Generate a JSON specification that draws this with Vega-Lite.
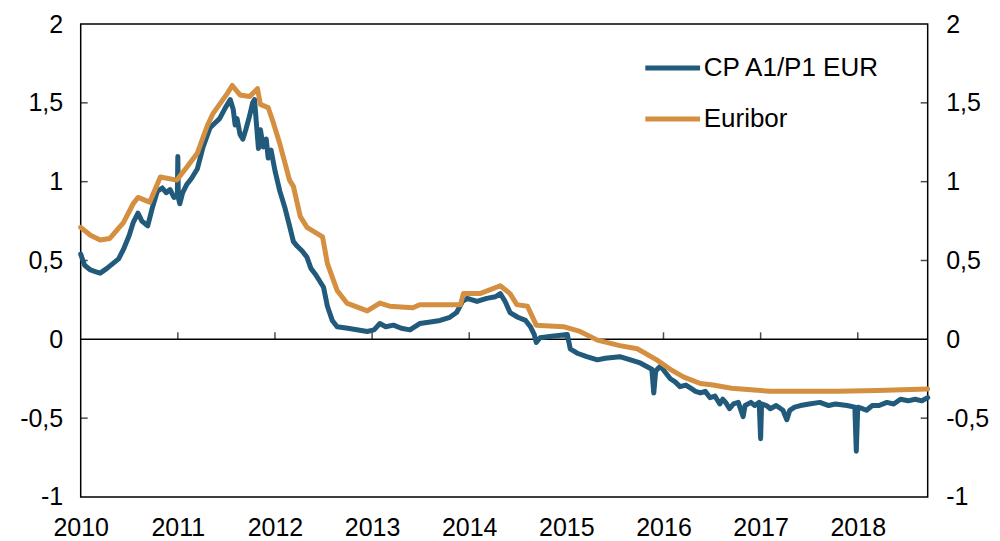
{
  "$schema": "https://vega.github.io/schema/vega-lite/v6.json",
  "autosize": {"type": "none"},
  "padding": {"left": 80.7, "top": 24, "right": 72, "bottom": 44},
  "width": 847,
  "height": 473,
  "background": "white",
  "config": {
    "font": "Liberation Sans",
    "view": {"stroke": "black", "strokeWidth": 1.5},
    "axis": {"labelFont": "Liberation Sans", "labelFontSize": 25, "labelColor": "black", "grid": false, "title": null, "domain": false, "ticks": false}
  },
  "datasets": {
    "rates": [
      {"t": 2010.00, "v": 0.54, "s": "CP A1/P1 EUR"},
      {"t": 2010.04, "v": 0.47, "s": "CP A1/P1 EUR"},
      {"t": 2010.10, "v": 0.44, "s": "CP A1/P1 EUR"},
      {"t": 2010.15, "v": 0.43, "s": "CP A1/P1 EUR"},
      {"t": 2010.20, "v": 0.42, "s": "CP A1/P1 EUR"},
      {"t": 2010.27, "v": 0.45, "s": "CP A1/P1 EUR"},
      {"t": 2010.33, "v": 0.48, "s": "CP A1/P1 EUR"},
      {"t": 2010.39, "v": 0.51, "s": "CP A1/P1 EUR"},
      {"t": 2010.44, "v": 0.57, "s": "CP A1/P1 EUR"},
      {"t": 2010.50, "v": 0.66, "s": "CP A1/P1 EUR"},
      {"t": 2010.54, "v": 0.74, "s": "CP A1/P1 EUR"},
      {"t": 2010.59, "v": 0.80, "s": "CP A1/P1 EUR"},
      {"t": 2010.63, "v": 0.75, "s": "CP A1/P1 EUR"},
      {"t": 2010.69, "v": 0.72, "s": "CP A1/P1 EUR"},
      {"t": 2010.74, "v": 0.84, "s": "CP A1/P1 EUR"},
      {"t": 2010.79, "v": 0.94, "s": "CP A1/P1 EUR"},
      {"t": 2010.84, "v": 0.96, "s": "CP A1/P1 EUR"},
      {"t": 2010.88, "v": 0.93, "s": "CP A1/P1 EUR"},
      {"t": 2010.92, "v": 0.95, "s": "CP A1/P1 EUR"},
      {"t": 2010.96, "v": 0.90, "s": "CP A1/P1 EUR"},
      {"t": 2010.995, "v": 0.91, "s": "CP A1/P1 EUR"},
      {"t": 2011.00, "v": 1.16, "s": "CP A1/P1 EUR"},
      {"t": 2011.005, "v": 0.90, "s": "CP A1/P1 EUR"},
      {"t": 2011.02, "v": 0.86, "s": "CP A1/P1 EUR"},
      {"t": 2011.05, "v": 0.93, "s": "CP A1/P1 EUR"},
      {"t": 2011.09, "v": 0.98, "s": "CP A1/P1 EUR"},
      {"t": 2011.14, "v": 1.02, "s": "CP A1/P1 EUR"},
      {"t": 2011.20, "v": 1.08, "s": "CP A1/P1 EUR"},
      {"t": 2011.26, "v": 1.22, "s": "CP A1/P1 EUR"},
      {"t": 2011.33, "v": 1.34, "s": "CP A1/P1 EUR"},
      {"t": 2011.38, "v": 1.37, "s": "CP A1/P1 EUR"},
      {"t": 2011.43, "v": 1.40, "s": "CP A1/P1 EUR"},
      {"t": 2011.49, "v": 1.47, "s": "CP A1/P1 EUR"},
      {"t": 2011.54, "v": 1.52, "s": "CP A1/P1 EUR"},
      {"t": 2011.57, "v": 1.46, "s": "CP A1/P1 EUR"},
      {"t": 2011.59, "v": 1.36, "s": "CP A1/P1 EUR"},
      {"t": 2011.61, "v": 1.40, "s": "CP A1/P1 EUR"},
      {"t": 2011.64, "v": 1.30, "s": "CP A1/P1 EUR"},
      {"t": 2011.67, "v": 1.27, "s": "CP A1/P1 EUR"},
      {"t": 2011.70, "v": 1.33, "s": "CP A1/P1 EUR"},
      {"t": 2011.74, "v": 1.42, "s": "CP A1/P1 EUR"},
      {"t": 2011.77, "v": 1.50, "s": "CP A1/P1 EUR"},
      {"t": 2011.79, "v": 1.52, "s": "CP A1/P1 EUR"},
      {"t": 2011.81, "v": 1.36, "s": "CP A1/P1 EUR"},
      {"t": 2011.83, "v": 1.21, "s": "CP A1/P1 EUR"},
      {"t": 2011.85, "v": 1.33, "s": "CP A1/P1 EUR"},
      {"t": 2011.88, "v": 1.22, "s": "CP A1/P1 EUR"},
      {"t": 2011.91, "v": 1.27, "s": "CP A1/P1 EUR"},
      {"t": 2011.93, "v": 1.15, "s": "CP A1/P1 EUR"},
      {"t": 2011.96, "v": 1.20, "s": "CP A1/P1 EUR"},
      {"t": 2012.00, "v": 1.07, "s": "CP A1/P1 EUR"},
      {"t": 2012.05, "v": 0.94, "s": "CP A1/P1 EUR"},
      {"t": 2012.10, "v": 0.84, "s": "CP A1/P1 EUR"},
      {"t": 2012.15, "v": 0.72, "s": "CP A1/P1 EUR"},
      {"t": 2012.19, "v": 0.62, "s": "CP A1/P1 EUR"},
      {"t": 2012.23, "v": 0.59, "s": "CP A1/P1 EUR"},
      {"t": 2012.28, "v": 0.56, "s": "CP A1/P1 EUR"},
      {"t": 2012.33, "v": 0.52, "s": "CP A1/P1 EUR"},
      {"t": 2012.37, "v": 0.45, "s": "CP A1/P1 EUR"},
      {"t": 2012.42, "v": 0.41, "s": "CP A1/P1 EUR"},
      {"t": 2012.46, "v": 0.37, "s": "CP A1/P1 EUR"},
      {"t": 2012.50, "v": 0.33, "s": "CP A1/P1 EUR"},
      {"t": 2012.54, "v": 0.21, "s": "CP A1/P1 EUR"},
      {"t": 2012.59, "v": 0.12, "s": "CP A1/P1 EUR"},
      {"t": 2012.64, "v": 0.08, "s": "CP A1/P1 EUR"},
      {"t": 2012.75, "v": 0.07, "s": "CP A1/P1 EUR"},
      {"t": 2012.95, "v": 0.05, "s": "CP A1/P1 EUR"},
      {"t": 2013.02, "v": 0.06, "s": "CP A1/P1 EUR"},
      {"t": 2013.08, "v": 0.10, "s": "CP A1/P1 EUR"},
      {"t": 2013.14, "v": 0.08, "s": "CP A1/P1 EUR"},
      {"t": 2013.22, "v": 0.09, "s": "CP A1/P1 EUR"},
      {"t": 2013.30, "v": 0.07, "s": "CP A1/P1 EUR"},
      {"t": 2013.39, "v": 0.06, "s": "CP A1/P1 EUR"},
      {"t": 2013.49, "v": 0.10, "s": "CP A1/P1 EUR"},
      {"t": 2013.60, "v": 0.11, "s": "CP A1/P1 EUR"},
      {"t": 2013.70, "v": 0.12, "s": "CP A1/P1 EUR"},
      {"t": 2013.80, "v": 0.14, "s": "CP A1/P1 EUR"},
      {"t": 2013.87, "v": 0.17, "s": "CP A1/P1 EUR"},
      {"t": 2013.93, "v": 0.24, "s": "CP A1/P1 EUR"},
      {"t": 2013.98, "v": 0.26, "s": "CP A1/P1 EUR"},
      {"t": 2014.08, "v": 0.24, "s": "CP A1/P1 EUR"},
      {"t": 2014.18, "v": 0.26, "s": "CP A1/P1 EUR"},
      {"t": 2014.27, "v": 0.27, "s": "CP A1/P1 EUR"},
      {"t": 2014.32, "v": 0.29, "s": "CP A1/P1 EUR"},
      {"t": 2014.37, "v": 0.24, "s": "CP A1/P1 EUR"},
      {"t": 2014.42, "v": 0.17, "s": "CP A1/P1 EUR"},
      {"t": 2014.50, "v": 0.14, "s": "CP A1/P1 EUR"},
      {"t": 2014.58, "v": 0.12, "s": "CP A1/P1 EUR"},
      {"t": 2014.63, "v": 0.08, "s": "CP A1/P1 EUR"},
      {"t": 2014.67, "v": 0.03, "s": "CP A1/P1 EUR"},
      {"t": 2014.69, "v": -0.02, "s": "CP A1/P1 EUR"},
      {"t": 2014.73, "v": 0.01, "s": "CP A1/P1 EUR"},
      {"t": 2014.85, "v": 0.02, "s": "CP A1/P1 EUR"},
      {"t": 2015.01, "v": 0.03, "s": "CP A1/P1 EUR"},
      {"t": 2015.04, "v": -0.06, "s": "CP A1/P1 EUR"},
      {"t": 2015.12, "v": -0.09, "s": "CP A1/P1 EUR"},
      {"t": 2015.21, "v": -0.11, "s": "CP A1/P1 EUR"},
      {"t": 2015.32, "v": -0.13, "s": "CP A1/P1 EUR"},
      {"t": 2015.40, "v": -0.12, "s": "CP A1/P1 EUR"},
      {"t": 2015.55, "v": -0.11, "s": "CP A1/P1 EUR"},
      {"t": 2015.66, "v": -0.13, "s": "CP A1/P1 EUR"},
      {"t": 2015.76, "v": -0.15, "s": "CP A1/P1 EUR"},
      {"t": 2015.88, "v": -0.19, "s": "CP A1/P1 EUR"},
      {"t": 2015.90, "v": -0.34, "s": "CP A1/P1 EUR"},
      {"t": 2015.92, "v": -0.20, "s": "CP A1/P1 EUR"},
      {"t": 2015.97, "v": -0.17, "s": "CP A1/P1 EUR"},
      {"t": 2016.02, "v": -0.21, "s": "CP A1/P1 EUR"},
      {"t": 2016.07, "v": -0.25, "s": "CP A1/P1 EUR"},
      {"t": 2016.12, "v": -0.27, "s": "CP A1/P1 EUR"},
      {"t": 2016.17, "v": -0.30, "s": "CP A1/P1 EUR"},
      {"t": 2016.23, "v": -0.29, "s": "CP A1/P1 EUR"},
      {"t": 2016.28, "v": -0.31, "s": "CP A1/P1 EUR"},
      {"t": 2016.33, "v": -0.33, "s": "CP A1/P1 EUR"},
      {"t": 2016.38, "v": -0.34, "s": "CP A1/P1 EUR"},
      {"t": 2016.43, "v": -0.33, "s": "CP A1/P1 EUR"},
      {"t": 2016.48, "v": -0.37, "s": "CP A1/P1 EUR"},
      {"t": 2016.53, "v": -0.36, "s": "CP A1/P1 EUR"},
      {"t": 2016.58, "v": -0.41, "s": "CP A1/P1 EUR"},
      {"t": 2016.61, "v": -0.38, "s": "CP A1/P1 EUR"},
      {"t": 2016.64, "v": -0.40, "s": "CP A1/P1 EUR"},
      {"t": 2016.68, "v": -0.44, "s": "CP A1/P1 EUR"},
      {"t": 2016.72, "v": -0.41, "s": "CP A1/P1 EUR"},
      {"t": 2016.77, "v": -0.40, "s": "CP A1/P1 EUR"},
      {"t": 2016.82, "v": -0.49, "s": "CP A1/P1 EUR"},
      {"t": 2016.84, "v": -0.42, "s": "CP A1/P1 EUR"},
      {"t": 2016.90, "v": -0.40, "s": "CP A1/P1 EUR"},
      {"t": 2016.94, "v": -0.42, "s": "CP A1/P1 EUR"},
      {"t": 2016.985, "v": -0.40, "s": "CP A1/P1 EUR"},
      {"t": 2017.00, "v": -0.63, "s": "CP A1/P1 EUR"},
      {"t": 2017.01, "v": -0.41, "s": "CP A1/P1 EUR"},
      {"t": 2017.06, "v": -0.42, "s": "CP A1/P1 EUR"},
      {"t": 2017.10, "v": -0.44, "s": "CP A1/P1 EUR"},
      {"t": 2017.16, "v": -0.42, "s": "CP A1/P1 EUR"},
      {"t": 2017.23, "v": -0.45, "s": "CP A1/P1 EUR"},
      {"t": 2017.27, "v": -0.51, "s": "CP A1/P1 EUR"},
      {"t": 2017.30, "v": -0.45, "s": "CP A1/P1 EUR"},
      {"t": 2017.35, "v": -0.43, "s": "CP A1/P1 EUR"},
      {"t": 2017.41, "v": -0.42, "s": "CP A1/P1 EUR"},
      {"t": 2017.50, "v": -0.41, "s": "CP A1/P1 EUR"},
      {"t": 2017.61, "v": -0.40, "s": "CP A1/P1 EUR"},
      {"t": 2017.70, "v": -0.42, "s": "CP A1/P1 EUR"},
      {"t": 2017.77, "v": -0.41, "s": "CP A1/P1 EUR"},
      {"t": 2017.89, "v": -0.42, "s": "CP A1/P1 EUR"},
      {"t": 2017.97, "v": -0.43, "s": "CP A1/P1 EUR"},
      {"t": 2017.985, "v": -0.71, "s": "CP A1/P1 EUR"},
      {"t": 2018.00, "v": -0.43, "s": "CP A1/P1 EUR"},
      {"t": 2018.05, "v": -0.44, "s": "CP A1/P1 EUR"},
      {"t": 2018.09, "v": -0.45, "s": "CP A1/P1 EUR"},
      {"t": 2018.15, "v": -0.42, "s": "CP A1/P1 EUR"},
      {"t": 2018.22, "v": -0.42, "s": "CP A1/P1 EUR"},
      {"t": 2018.30, "v": -0.40, "s": "CP A1/P1 EUR"},
      {"t": 2018.37, "v": -0.41, "s": "CP A1/P1 EUR"},
      {"t": 2018.44, "v": -0.38, "s": "CP A1/P1 EUR"},
      {"t": 2018.52, "v": -0.39, "s": "CP A1/P1 EUR"},
      {"t": 2018.59, "v": -0.38, "s": "CP A1/P1 EUR"},
      {"t": 2018.66, "v": -0.39, "s": "CP A1/P1 EUR"},
      {"t": 2018.72, "v": -0.37, "s": "CP A1/P1 EUR"},
      {"t": 2010.00, "v": 0.71, "s": "Euribor"},
      {"t": 2010.10, "v": 0.66, "s": "Euribor"},
      {"t": 2010.20, "v": 0.63, "s": "Euribor"},
      {"t": 2010.30, "v": 0.64, "s": "Euribor"},
      {"t": 2010.44, "v": 0.74, "s": "Euribor"},
      {"t": 2010.54, "v": 0.86, "s": "Euribor"},
      {"t": 2010.59, "v": 0.90, "s": "Euribor"},
      {"t": 2010.71, "v": 0.87, "s": "Euribor"},
      {"t": 2010.82, "v": 1.03, "s": "Euribor"},
      {"t": 2010.99, "v": 1.01, "s": "Euribor"},
      {"t": 2011.09, "v": 1.09, "s": "Euribor"},
      {"t": 2011.20, "v": 1.18, "s": "Euribor"},
      {"t": 2011.30, "v": 1.35, "s": "Euribor"},
      {"t": 2011.36, "v": 1.43, "s": "Euribor"},
      {"t": 2011.51, "v": 1.56, "s": "Euribor"},
      {"t": 2011.56, "v": 1.61, "s": "Euribor"},
      {"t": 2011.64, "v": 1.55, "s": "Euribor"},
      {"t": 2011.74, "v": 1.54, "s": "Euribor"},
      {"t": 2011.82, "v": 1.59, "s": "Euribor"},
      {"t": 2011.85, "v": 1.49, "s": "Euribor"},
      {"t": 2011.93, "v": 1.47, "s": "Euribor"},
      {"t": 2011.98, "v": 1.38, "s": "Euribor"},
      {"t": 2012.05, "v": 1.24, "s": "Euribor"},
      {"t": 2012.15, "v": 1.01, "s": "Euribor"},
      {"t": 2012.19, "v": 0.97, "s": "Euribor"},
      {"t": 2012.26, "v": 0.78, "s": "Euribor"},
      {"t": 2012.33, "v": 0.71, "s": "Euribor"},
      {"t": 2012.49, "v": 0.65, "s": "Euribor"},
      {"t": 2012.54, "v": 0.48, "s": "Euribor"},
      {"t": 2012.64, "v": 0.31, "s": "Euribor"},
      {"t": 2012.74, "v": 0.23, "s": "Euribor"},
      {"t": 2012.95, "v": 0.18, "s": "Euribor"},
      {"t": 2013.08, "v": 0.23, "s": "Euribor"},
      {"t": 2013.18, "v": 0.21, "s": "Euribor"},
      {"t": 2013.42, "v": 0.20, "s": "Euribor"},
      {"t": 2013.49, "v": 0.22, "s": "Euribor"},
      {"t": 2013.91, "v": 0.22, "s": "Euribor"},
      {"t": 2013.94, "v": 0.29, "s": "Euribor"},
      {"t": 2014.11, "v": 0.29, "s": "Euribor"},
      {"t": 2014.32, "v": 0.34, "s": "Euribor"},
      {"t": 2014.42, "v": 0.29, "s": "Euribor"},
      {"t": 2014.49, "v": 0.22, "s": "Euribor"},
      {"t": 2014.60, "v": 0.21, "s": "Euribor"},
      {"t": 2014.69, "v": 0.09, "s": "Euribor"},
      {"t": 2014.97, "v": 0.08, "s": "Euribor"},
      {"t": 2015.14, "v": 0.05, "s": "Euribor"},
      {"t": 2015.32, "v": -0.005, "s": "Euribor"},
      {"t": 2015.55, "v": -0.04, "s": "Euribor"},
      {"t": 2015.73, "v": -0.06, "s": "Euribor"},
      {"t": 2015.93, "v": -0.13, "s": "Euribor"},
      {"t": 2016.07, "v": -0.19, "s": "Euribor"},
      {"t": 2016.21, "v": -0.24, "s": "Euribor"},
      {"t": 2016.38, "v": -0.28, "s": "Euribor"},
      {"t": 2016.51, "v": -0.29, "s": "Euribor"},
      {"t": 2016.70, "v": -0.31, "s": "Euribor"},
      {"t": 2016.90, "v": -0.32, "s": "Euribor"},
      {"t": 2017.10, "v": -0.33, "s": "Euribor"},
      {"t": 2017.80, "v": -0.33, "s": "Euribor"},
      {"t": 2018.20, "v": -0.325, "s": "Euribor"},
      {"t": 2018.72, "v": -0.315, "s": "Euribor"}
    ],
    "zero": [{"z": 0}],
    "years": [{"yr": 2011}, {"yr": 2012}, {"yr": 2013}, {"yr": 2014}, {"yr": 2015}, {"yr": 2016}, {"yr": 2017}, {"yr": 2018}],
    "levels": [{"lv": -0.5}, {"lv": 0.5}, {"lv": 1}, {"lv": 1.5}]
  },
  "layer": [
    {
      "data": {"name": "zero"},
      "mark": {"type": "rule", "color": "black", "strokeWidth": 1.5},
      "encoding": {
        "y": {"field": "z", "type": "quantitative", "scale": {"domain": [-1, 2], "nice": false, "zero": false},
          "axis": {"orient": "right", "values": [-1, -0.5, 0, 0.5, 1, 1.5, 2], "labelPadding": 18, "labelAlign": "left", "labelExpr": "replace(toString(datum.value), '.', ',')"}}
      }
    },
    {
      "data": {"name": "years"},
      "mark": {"type": "tick", "orient": "vertical", "color": "black", "thickness": 1.5, "size": 7, "yOffset": -3.5},
      "encoding": {
        "x": {"field": "yr", "type": "quantitative"},
        "y": {"datum": 0, "axis": null}
      }
    },
    {
      "data": {"name": "levels"},
      "mark": {"type": "tick", "orient": "horizontal", "color": "black", "thickness": 1.5, "size": 7, "xOffset": 3.5},
      "encoding": {
        "x": {"datum": 2010},
        "y": {"field": "lv", "type": "quantitative", "axis": null}
      }
    },
    {
      "data": {"name": "levels"},
      "mark": {"type": "tick", "orient": "horizontal", "color": "black", "thickness": 1.5, "size": 7, "xOffset": -3.5},
      "encoding": {
        "x": {"datum": 2018.72},
        "y": {"field": "lv", "type": "quantitative", "axis": null}
      }
    },
    {
      "data": {"name": "rates"},
      "mark": {"type": "line", "strokeWidth": 5, "strokeJoin": "round", "strokeCap": "round"},
      "encoding": {
        "x": {"field": "t", "type": "quantitative", "scale": {"domain": [2010, 2018.72], "nice": false, "zero": false},
          "axis": {"orient": "bottom", "values": [2010, 2011, 2012, 2013, 2014, 2015, 2016, 2017, 2018], "format": "d", "labelPadding": 19, "labelFlush": false}},
        "y": {"field": "v", "type": "quantitative", "scale": {"domain": [-1, 2], "nice": false, "zero": false},
          "axis": {"orient": "left", "values": [-1, -0.5, 0, 0.5, 1, 1.5, 2], "labelPadding": 18, "labelExpr": "replace(toString(datum.value), '.', ',')"}},
        "color": {"field": "s", "type": "nominal", "sort": ["CP A1/P1 EUR", "Euribor"],
          "scale": {"domain": ["CP A1/P1 EUR", "Euribor"], "range": ["#215a7b", "#d48f41"]},
          "legend": {"title": null, "orient": "none", "legendX": 562, "legendY": 14, "symbolType": "stroke", "symbolStrokeWidth": 5, "symbolSize": 3000, "labelFontSize": 26, "labelFont": "Liberation Sans", "labelColor": "black", "labelOffset": 1, "rowPadding": 8, "labelLimit": 400}}
      }
    }
  ],
  "resolve": {"axis": {"y": "independent"}}
}
